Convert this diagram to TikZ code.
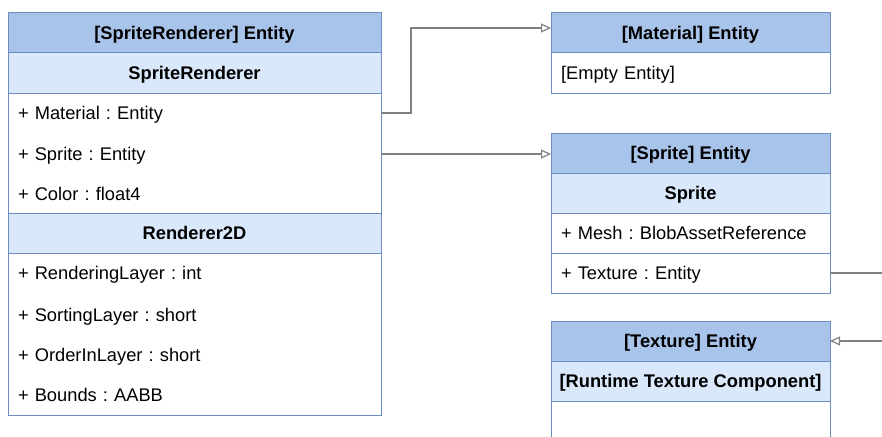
\documentclass[tikz,border=0pt]{standalone}
\usepackage{fontspec}
\setmainfont{Liberation Sans}
\usetikzlibrary{arrows.meta}
\definecolor{hdr}{HTML}{A9C4EB}
\definecolor{subhdr}{HTML}{DAE8FC}
\definecolor{frame}{HTML}{6C8EBF}
\definecolor{wire}{HTML}{808080}

\begin{document}
\frenchspacing
\begin{tikzpicture}[x=1pt,y=-1pt,
  txt/.style={font=\fontsize{18.3}{20}\selectfont\frenchspacing, text height=17pt, text depth=4pt},
  part/.style={draw=frame, line width=1pt, minimum height=40pt, inner sep=0pt,
               outer sep=0pt, anchor=north west, txt},
  head/.style={part, fill=hdr, font=\fontsize{18.3}{20}\selectfont\bfseries},
  subhead/.style={part, fill=subhdr, font=\fontsize{18.3}{20}\selectfont\bfseries},
  body/.style={part, fill=white},
  field/.style={anchor=north west, minimum height=40pt, inner xsep=10pt,
                inner ysep=0pt, outer sep=0pt, align=left, txt},
  link/.style={draw=wire, line width=1.2pt,
               -{Triangle[open, length=10pt, width=9pt]}},
  wireonly/.style={draw=wire, line width=1.2pt}
]
\useasboundingbox (0,0) rectangle (882,436);

% SpriteRenderer entity
\node[head, minimum width=373pt] (srh) at (8,13) {[SpriteRenderer] Entity};
\node[subhead, minimum width=373pt] (srs) at (8,53) {SpriteRenderer};
\node[body, minimum width=373pt, minimum height=120pt] (srb) at (8,93) {};
\node[field, text width=353pt] (fmat) at (8,93) {+ Material : Entity};
\node[field, text width=353pt] (fspr) at (8,134) {+ Sprite : Entity};
\node[field, text width=353pt] (fcol) at (8,174) {+ Color : float4};
\node[subhead, minimum width=373pt] (r2d) at (8,213) {Renderer2D};
\node[body, minimum width=373pt, minimum height=162pt] (r2b) at (8,253) {};
\node[field, text width=353pt] (frl) at (8,253) {+ RenderingLayer : int};
\node[field, text width=353pt] (fsl) at (8,295) {+ SortingLayer : short};
\node[field, text width=353pt] (fol) at (8,335) {+ OrderInLayer : short};
\node[field, text width=353pt] (fbd) at (8,375) {+ Bounds : AABB};

% Material entity
\node[head, minimum width=279pt] (math) at (551,13) {[Material] Entity};
\node[body, minimum width=279pt] (matb) at (551,53) {};
\node[field, text width=259pt] (mate) at (551,53) {[Empty Entity]};

% Sprite entity
\node[head, minimum width=279pt] (sph) at (551,133) {[Sprite] Entity};
\node[subhead, minimum width=279pt] (sps) at (551,173) {Sprite};
\node[body, minimum width=279pt] (spm) at (551,213) {};
\node[field, text width=259pt] (fmesh) at (551,213) {+ Mesh : BlobAssetReference};
\node[body, minimum width=279pt] (spt) at (551,253) {};
\node[field, text width=259pt] (ftex) at (551,253) {+ Texture : Entity};

% Texture entity
\node[head, minimum width=279pt] (txh) at (551,321) {[Texture] Entity};
\node[subhead, minimum width=279pt] (txs) at (551,361) {[Runtime Texture Component]};
\node[body, minimum width=279pt, minimum height=50pt] (txb) at (551,401) {};

% Connectors
\draw[link] (srb.east |- fmat.east) -- (411,113) |- ([yshift=5pt]math.west);
\draw[link] (srb.east |- fspr.east) -- (fspr.east -| sph.west);
\coordinate (texout) at (882,273);
\coordinate (texin) at (882,341);
\draw[wireonly] (spt.east) -- (texout);
\draw[link] (texin) -- (txh.east);
\end{tikzpicture}
\end{document}
